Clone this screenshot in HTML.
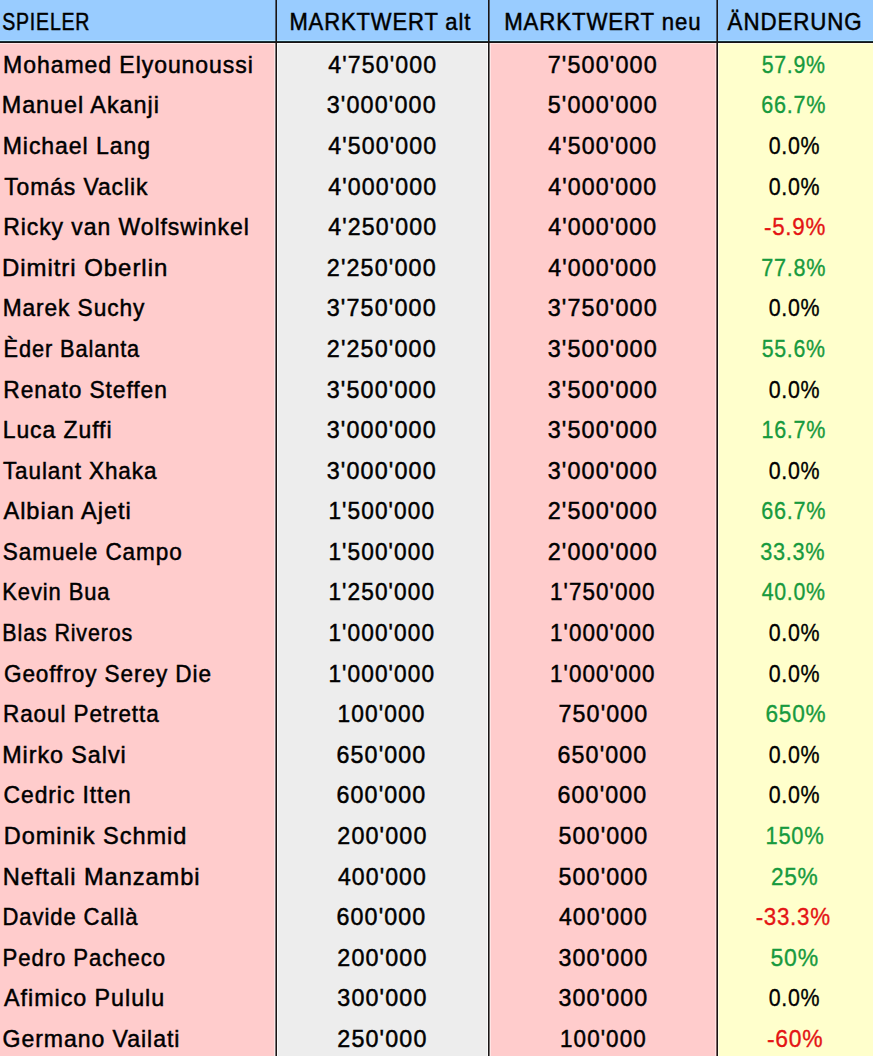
<!DOCTYPE html>
<html><head><meta charset="utf-8"><style>
html,body{margin:0;padding:0;}
body{width:873px;height:1057px;position:relative;overflow:hidden;background:#fff;font-family:"Liberation Sans",sans-serif;}
.bg{position:absolute;}
.t{position:absolute;width:0;display:flex;justify-content:center;white-space:nowrap;font-size:24.5px;line-height:24.5px;height:24.5px;}
.t span{display:block;transform-origin:50% 50%;}
.h{-webkit-text-stroke:0.5px #000;letter-spacing:1.0px;}
.n{-webkit-text-stroke:0.5px #000;letter-spacing:1.0px;}
.v{-webkit-text-stroke:0.5px #000;letter-spacing:1.2px;}
.p{-webkit-text-stroke:0.35px currentColor;letter-spacing:0.8px;}
.g{color:#179a3e;}
.r{color:#e41414;}
.k{color:#000;}
</style></head><body>

<div class="bg" style="left:0;top:0;width:873px;height:41px;background:#99ccff"></div>
<div class="bg" style="left:0;top:43px;width:275px;height:1013px;background:#ffcccc"></div>
<div class="bg" style="left:277px;top:43px;width:211px;height:1013px;background:#ededed"></div>
<div class="bg" style="left:490px;top:43px;width:227px;height:1013px;background:#ffcccc"></div>
<div class="bg" style="left:718px;top:43px;width:155px;height:1013px;background:#ffffcc"></div>
<div class="bg" style="left:274px;top:43px;width:1px;height:1013px;background:#ffe4e4"></div>
<div class="bg" style="left:277px;top:43px;width:1px;height:1013px;background:#fafafa"></div>
<div class="bg" style="left:487px;top:43px;width:1px;height:1013px;background:#fafafa"></div>
<div class="bg" style="left:490px;top:43px;width:1px;height:1013px;background:#ffe4e4"></div>
<div class="bg" style="left:715px;top:43px;width:1px;height:1013px;background:#ffe0e0"></div>
<div class="bg" style="left:718px;top:43px;width:1px;height:1013px;background:#ffffe6"></div>
<div class="bg" style="left:0;top:40px;width:873px;height:1px;background:#b4e4ff"></div>
<div class="bg" style="left:0px;top:43px;width:275px;height:1px;background:#ffe6e6"></div>
<div class="bg" style="left:277px;top:43px;width:211px;height:1px;background:#fafafa"></div>
<div class="bg" style="left:490px;top:43px;width:227px;height:1px;background:#ffe6e6"></div>
<div class="bg" style="left:718px;top:43px;width:155px;height:1px;background:#ffffe8"></div>
<div class="bg" style="left:0;top:41px;width:873px;height:1px;background:#173038"></div>
<div class="bg" style="left:0;top:42px;width:873px;height:1px;background:#1a1414"></div>
<div class="bg" style="left:275px;top:0;width:1px;height:1056px;background:#1a1414;opacity:0.6"></div>
<div class="bg" style="left:276px;top:0;width:1px;height:1056px;background:#1a1414;opacity:1"></div>
<div class="bg" style="left:488px;top:0;width:1px;height:1056px;background:#1a1414;opacity:1"></div>
<div class="bg" style="left:489px;top:0;width:1px;height:1056px;background:#1a1414;opacity:0.6"></div>
<div class="bg" style="left:716px;top:0;width:1px;height:1056px;background:#1a1414;opacity:0.6"></div>
<div class="bg" style="left:717px;top:0;width:1px;height:1056px;background:#1a1414;opacity:1"></div>
<div class="t h k" style="left:46.50px;top:9.60px"><span style="transform:scaleX(0.7965)">SPIELER</span></div>
<div class="t h k" style="left:380.50px;top:9.60px"><span style="transform:scaleX(0.8973)">MARKTWERT alt</span></div>
<div class="t h k" style="left:603.00px;top:9.60px"><span style="transform:scaleX(0.9063)">MARKTWERT neu</span></div>
<div class="t h k" style="left:795.50px;top:9.60px"><span style="transform:scaleX(0.9110)">ÄNDERUNG</span></div>
<div class="t n k" style="left:128.00px;top:52.80px"><span style="transform:scaleX(0.9396)">Mohamed Elyounoussi</span></div>
<div class="t v k" style="left:382.50px;top:52.80px"><span style="transform:scaleX(0.9435)">4'750'000</span></div>
<div class="t v k" style="left:603.00px;top:52.80px"><span style="transform:scaleX(0.9530)">7'500'000</span></div>
<div class="t p g" style="left:793.50px;top:52.80px"><span style="transform:scaleX(0.8705)">57.9%</span></div>
<div class="t n k" style="left:81.00px;top:93.39px"><span style="transform:scaleX(0.9555)">Manuel Akanji</span></div>
<div class="t v k" style="left:382.00px;top:93.39px"><span style="transform:scaleX(0.9524)">3'000'000</span></div>
<div class="t v k" style="left:603.00px;top:93.39px"><span style="transform:scaleX(0.9529)">5'000'000</span></div>
<div class="t p g" style="left:794.00px;top:93.39px"><span style="transform:scaleX(0.8819)">66.7%</span></div>
<div class="t n k" style="left:76.50px;top:133.98px"><span style="transform:scaleX(0.9400)">Michael Lang</span></div>
<div class="t v k" style="left:382.50px;top:133.98px"><span style="transform:scaleX(0.9435)">4'500'000</span></div>
<div class="t v k" style="left:602.50px;top:133.98px"><span style="transform:scaleX(0.9437)">4'500'000</span></div>
<div class="t p k" style="left:794.50px;top:133.98px"><span style="transform:scaleX(0.8723)">0.0%</span></div>
<div class="t n k" style="left:76.00px;top:174.57px"><span style="transform:scaleX(0.9332)">Tomás Vaclik</span></div>
<div class="t v k" style="left:382.50px;top:174.57px"><span style="transform:scaleX(0.9435)">4'000'000</span></div>
<div class="t v k" style="left:602.50px;top:174.57px"><span style="transform:scaleX(0.9437)">4'000'000</span></div>
<div class="t p k" style="left:794.50px;top:174.57px"><span style="transform:scaleX(0.8723)">0.0%</span></div>
<div class="t n k" style="left:126.00px;top:215.16px"><span style="transform:scaleX(0.9377)">Ricky van Wolfswinkel</span></div>
<div class="t v k" style="left:382.50px;top:215.16px"><span style="transform:scaleX(0.9435)">4'250'000</span></div>
<div class="t v k" style="left:602.50px;top:215.16px"><span style="transform:scaleX(0.9437)">4'000'000</span></div>
<div class="t p r" style="left:795.00px;top:215.16px"><span style="transform:scaleX(0.9107)">-5.9%</span></div>
<div class="t n k" style="left:85.00px;top:255.75px"><span style="transform:scaleX(0.9773)">Dimitri Oberlin</span></div>
<div class="t v k" style="left:382.00px;top:255.75px"><span style="transform:scaleX(0.9520)">2'250'000</span></div>
<div class="t v k" style="left:602.50px;top:255.75px"><span style="transform:scaleX(0.9437)">4'000'000</span></div>
<div class="t p g" style="left:794.00px;top:255.75px"><span style="transform:scaleX(0.8819)">77.8%</span></div>
<div class="t n k" style="left:74.00px;top:296.34px"><span style="transform:scaleX(0.9265)">Marek Suchy</span></div>
<div class="t v k" style="left:382.00px;top:296.34px"><span style="transform:scaleX(0.9524)">3'750'000</span></div>
<div class="t v k" style="left:603.00px;top:296.34px"><span style="transform:scaleX(0.9527)">3'750'000</span></div>
<div class="t p k" style="left:794.50px;top:296.34px"><span style="transform:scaleX(0.8723)">0.0%</span></div>
<div class="t n k" style="left:71.50px;top:336.93px"><span style="transform:scaleX(0.8880)">Èder Balanta</span></div>
<div class="t v k" style="left:382.00px;top:336.93px"><span style="transform:scaleX(0.9520)">2'250'000</span></div>
<div class="t v k" style="left:603.00px;top:336.93px"><span style="transform:scaleX(0.9527)">3'500'000</span></div>
<div class="t p g" style="left:793.50px;top:336.93px"><span style="transform:scaleX(0.8705)">55.6%</span></div>
<div class="t n k" style="left:85.00px;top:377.52px"><span style="transform:scaleX(0.9291)">Renato Steffen</span></div>
<div class="t v k" style="left:382.00px;top:377.52px"><span style="transform:scaleX(0.9524)">3'500'000</span></div>
<div class="t v k" style="left:603.00px;top:377.52px"><span style="transform:scaleX(0.9527)">3'500'000</span></div>
<div class="t p k" style="left:794.50px;top:377.52px"><span style="transform:scaleX(0.8723)">0.0%</span></div>
<div class="t n k" style="left:58.00px;top:418.11px"><span style="transform:scaleX(0.9366)">Luca Zuffi</span></div>
<div class="t v k" style="left:382.00px;top:418.11px"><span style="transform:scaleX(0.9524)">3'000'000</span></div>
<div class="t v k" style="left:603.00px;top:418.11px"><span style="transform:scaleX(0.9527)">3'500'000</span></div>
<div class="t p g" style="left:794.00px;top:418.11px"><span style="transform:scaleX(0.8776)">16.7%</span></div>
<div class="t n k" style="left:80.50px;top:458.70px"><span style="transform:scaleX(0.9179)">Taulant Xhaka</span></div>
<div class="t v k" style="left:382.00px;top:458.70px"><span style="transform:scaleX(0.9524)">3'000'000</span></div>
<div class="t v k" style="left:603.00px;top:458.70px"><span style="transform:scaleX(0.9527)">3'000'000</span></div>
<div class="t p k" style="left:794.50px;top:458.70px"><span style="transform:scaleX(0.8723)">0.0%</span></div>
<div class="t n k" style="left:68.00px;top:499.29px"><span style="transform:scaleX(0.9631)">Albian Ajeti</span></div>
<div class="t v k" style="left:382.00px;top:499.29px"><span style="transform:scaleX(0.9234)">1'500'000</span></div>
<div class="t v k" style="left:603.00px;top:499.29px"><span style="transform:scaleX(0.9530)">2'500'000</span></div>
<div class="t p g" style="left:794.00px;top:499.29px"><span style="transform:scaleX(0.8819)">66.7%</span></div>
<div class="t n k" style="left:92.50px;top:539.88px"><span style="transform:scaleX(0.9202)">Samuele Campo</span></div>
<div class="t v k" style="left:382.00px;top:539.88px"><span style="transform:scaleX(0.9234)">1'500'000</span></div>
<div class="t v k" style="left:603.00px;top:539.88px"><span style="transform:scaleX(0.9530)">2'000'000</span></div>
<div class="t p g" style="left:793.00px;top:539.88px"><span style="transform:scaleX(0.8843)">33.3%</span></div>
<div class="t n k" style="left:56.50px;top:580.47px"><span style="transform:scaleX(0.8952)">Kevin Bua</span></div>
<div class="t v k" style="left:382.00px;top:580.47px"><span style="transform:scaleX(0.9234)">1'250'000</span></div>
<div class="t v k" style="left:602.50px;top:580.47px"><span style="transform:scaleX(0.9144)">1'750'000</span></div>
<div class="t p g" style="left:793.50px;top:580.47px"><span style="transform:scaleX(0.8703)">40.0%</span></div>
<div class="t n k" style="left:68.00px;top:621.06px"><span style="transform:scaleX(0.8752)">Blas Riveros</span></div>
<div class="t v k" style="left:382.00px;top:621.06px"><span style="transform:scaleX(0.9234)">1'000'000</span></div>
<div class="t v k" style="left:602.50px;top:621.06px"><span style="transform:scaleX(0.9144)">1'000'000</span></div>
<div class="t p k" style="left:794.50px;top:621.06px"><span style="transform:scaleX(0.8723)">0.0%</span></div>
<div class="t n k" style="left:107.50px;top:661.65px"><span style="transform:scaleX(0.9211)">Geoffroy Serey Die</span></div>
<div class="t v k" style="left:382.00px;top:661.65px"><span style="transform:scaleX(0.9234)">1'000'000</span></div>
<div class="t v k" style="left:602.50px;top:661.65px"><span style="transform:scaleX(0.9144)">1'000'000</span></div>
<div class="t p k" style="left:794.50px;top:661.65px"><span style="transform:scaleX(0.8723)">0.0%</span></div>
<div class="t n k" style="left:81.00px;top:702.24px"><span style="transform:scaleX(0.9173)">Raoul Petretta</span></div>
<div class="t v k" style="left:381.50px;top:702.24px"><span style="transform:scaleX(0.9283)">100'000</span></div>
<div class="t v k" style="left:603.00px;top:702.24px"><span style="transform:scaleX(0.9491)">750'000</span></div>
<div class="t p g" style="left:795.50px;top:702.24px"><span style="transform:scaleX(0.9218)">650%</span></div>
<div class="t n k" style="left:64.00px;top:742.83px"><span style="transform:scaleX(0.9517)">Mirko Salvi</span></div>
<div class="t v k" style="left:381.00px;top:742.83px"><span style="transform:scaleX(0.9496)">650'000</span></div>
<div class="t v k" style="left:602.00px;top:742.83px"><span style="transform:scaleX(0.9486)">650'000</span></div>
<div class="t p k" style="left:794.50px;top:742.83px"><span style="transform:scaleX(0.8723)">0.0%</span></div>
<div class="t n k" style="left:67.50px;top:783.42px"><span style="transform:scaleX(0.9332)">Cedric Itten</span></div>
<div class="t v k" style="left:381.00px;top:783.42px"><span style="transform:scaleX(0.9496)">600'000</span></div>
<div class="t v k" style="left:602.00px;top:783.42px"><span style="transform:scaleX(0.9486)">600'000</span></div>
<div class="t p k" style="left:794.50px;top:783.42px"><span style="transform:scaleX(0.8723)">0.0%</span></div>
<div class="t n k" style="left:95.00px;top:824.01px"><span style="transform:scaleX(0.9614)">Dominik Schmid</span></div>
<div class="t v k" style="left:382.00px;top:824.01px"><span style="transform:scaleX(0.9501)">200'000</span></div>
<div class="t v k" style="left:603.00px;top:824.01px"><span style="transform:scaleX(0.9491)">500'000</span></div>
<div class="t p g" style="left:794.50px;top:824.01px"><span style="transform:scaleX(0.8936)">150%</span></div>
<div class="t n k" style="left:102.00px;top:864.60px"><span style="transform:scaleX(0.9636)">Neftali Manzambi</span></div>
<div class="t v k" style="left:382.50px;top:864.60px"><span style="transform:scaleX(0.9384)">400'000</span></div>
<div class="t v k" style="left:603.00px;top:864.60px"><span style="transform:scaleX(0.9491)">500'000</span></div>
<div class="t p g" style="left:795.00px;top:864.60px"><span style="transform:scaleX(0.9263)">25%</span></div>
<div class="t n k" style="left:70.00px;top:905.19px"><span style="transform:scaleX(0.9003)">Davide Callà</span></div>
<div class="t v k" style="left:381.00px;top:905.19px"><span style="transform:scaleX(0.9496)">600'000</span></div>
<div class="t v k" style="left:603.50px;top:905.19px"><span style="transform:scaleX(0.9384)">400'000</span></div>
<div class="t p r" style="left:793.50px;top:905.19px"><span style="transform:scaleX(0.9112)">-33.3%</span></div>
<div class="t n k" style="left:84.50px;top:945.78px"><span style="transform:scaleX(0.9048)">Pedro Pacheco</span></div>
<div class="t v k" style="left:382.00px;top:945.78px"><span style="transform:scaleX(0.9501)">200'000</span></div>
<div class="t v k" style="left:603.00px;top:945.78px"><span style="transform:scaleX(0.9491)">300'000</span></div>
<div class="t p g" style="left:795.00px;top:945.78px"><span style="transform:scaleX(0.9389)">50%</span></div>
<div class="t n k" style="left:85.00px;top:986.37px"><span style="transform:scaleX(0.9516)">Afimico Pululu</span></div>
<div class="t v k" style="left:382.00px;top:986.37px"><span style="transform:scaleX(0.9501)">300'000</span></div>
<div class="t v k" style="left:603.00px;top:986.37px"><span style="transform:scaleX(0.9491)">300'000</span></div>
<div class="t p k" style="left:794.50px;top:986.37px"><span style="transform:scaleX(0.8723)">0.0%</span></div>
<div class="t n k" style="left:91.50px;top:1026.96px"><span style="transform:scaleX(0.9417)">Germano Vailati</span></div>
<div class="t v k" style="left:382.00px;top:1026.96px"><span style="transform:scaleX(0.9501)">250'000</span></div>
<div class="t v k" style="left:603.00px;top:1026.96px"><span style="transform:scaleX(0.9153)">100'000</span></div>
<div class="t p r" style="left:795.50px;top:1026.96px"><span style="transform:scaleX(0.9350)">-60%</span></div>
</body></html>
